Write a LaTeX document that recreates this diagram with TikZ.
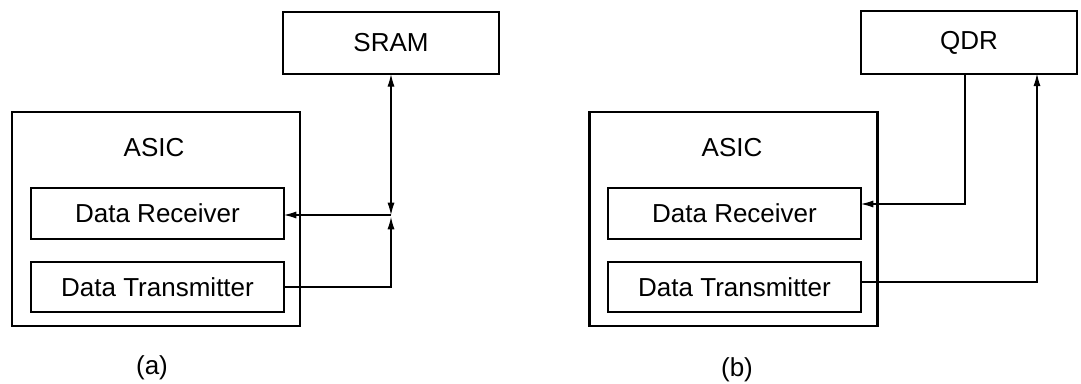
\documentclass[tikz,border=0pt]{standalone}
\usepackage{fontspec}
\setmainfont{Liberation Sans}
\usetikzlibrary{arrows.meta, positioning}

\begin{document}
\begin{tikzpicture}[x=0.02cm, y=-0.02cm,
	font=\fontsize{14.8pt}{17pt}\selectfont,
	>={Latex[length=7pt, width=4pt]},
	chip/.style={draw, line width=1.2pt, inner sep=0pt, outer sep=0pt, minimum width=5.76cm, minimum height=4.28cm},
	unit/.style={draw, line width=1.2pt, inner sep=0pt, outer sep=0pt, minimum width=5.06cm, minimum height=1.01cm},
	mem/.style={draw, line width=1.2pt, inner sep=0pt, outer sep=0pt, minimum width=4.32cm, minimum height=1.25cm},
	link/.style={line width=0.6pt}]
	\useasboundingbox (0,0) rectangle (1081,384);
	
	% bloques (a)
	\node [chip] (asicA) at (156,219) {};
	\node (asicAname) at (154,148) {ASIC};
	\node [unit] (rxA) at (157.5,213.5) {Data Receiver};
	\node [unit] (txA) [below=0.46cm of rxA] {Data Transmitter};
	\node [mem] (sramA) at (391,43) {SRAM};
	\node (capA) at (152,368) {(a)};
	
	% bloques (b)
	\node [chip] (asicB) at (733.5,219) {};
	\node (asicBname) at (732,148) {ASIC};
	\node [unit] (rxB) at (734.5,213.5) {Data Receiver};
	\node [unit] (txB) [below=0.46cm of rxB] {Data Transmitter};
	\node [mem] (qdrB) at (969,42.5) {QDR};
	\node (capB) at (737,370) {(b)};
	
	% conexiones (a)
	\coordinate (jA) at (sramA.south |- rxA.east);
	\draw [link, <->] (sramA.south) -- ([yshift=-0.03cm]jA);
	\draw [link, ->] ([yshift=-0.03cm]jA) -- ([yshift=-0.03cm]rxA.east);
	\draw [link, ->] (txA.east) -| ([yshift=-0.07cm]jA);
	
	% conexiones (b)
	\draw [link, ->] ([xshift=-0.08cm]qdrB.south) |- ([yshift=0.19cm]rxB.east);
	\draw [link, ->] ([yshift=0.1cm]txB.east) -| ([xshift=1.36cm]qdrB.south);
\end{tikzpicture}
\end{document}
